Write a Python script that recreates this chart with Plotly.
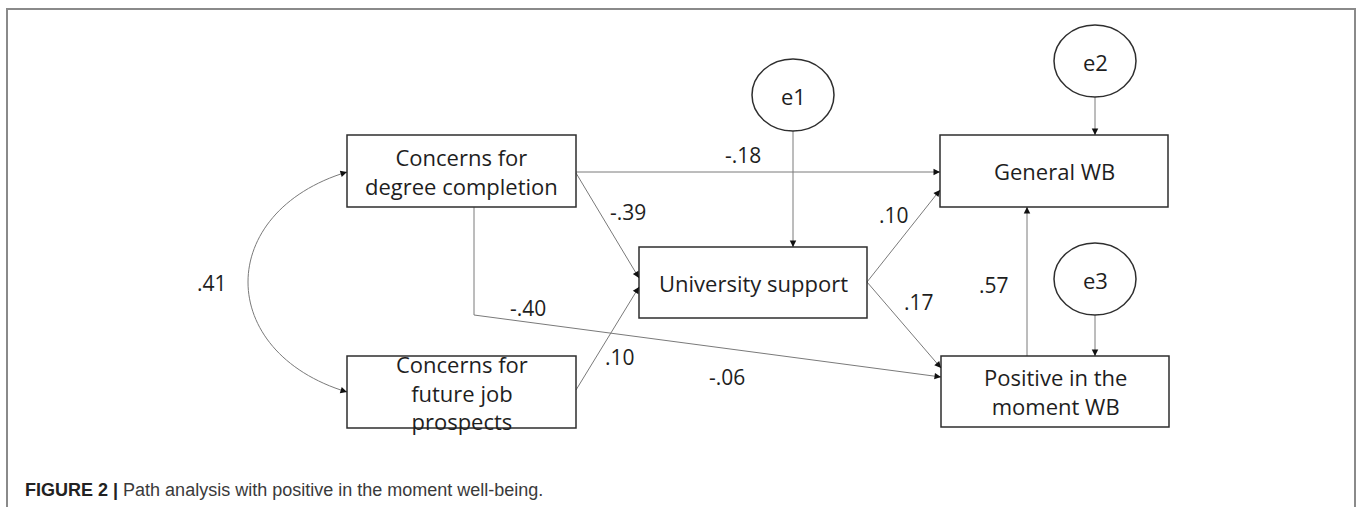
import plotly.graph_objects as go

# ---------------- data ----------------
node_ids = ["deg", "job", "univ", "gen", "pos"]
node_labels = ["Concerns for<br>degree completion",
               "Concerns for<br>future job<br>prospects",
               "University support",
               "General WB",
               "Positive in the<br>moment WB"]
error_labels = ["e1", "e2", "e3"]
error_targets = ["univ", "gen", "pos"]
path_from = ["deg", "deg", "job", "deg", "univ", "univ", "pos"]
path_to = ["gen", "univ", "univ", "pos", "gen", "pos", "gen"]
path_coef = ["-.18", "-.39", ".10", "-.40", ".10", ".17", ".57"]
extra_coef = ["-.06"]
corr_pair = ("deg", "job")
corr_coef = ".41"
caption_bold = "FIGURE 2 |"
caption_text = "Path analysis with positive in the moment well-being."

# ---------------- layout (pixel space) ----------------
W, H = 1365, 507
box_pos = {"deg": (347, 576, 135, 207), "job": (347, 576, 356, 428),
           "univ": (639, 867, 247, 318), "gen": (940, 1168, 135, 207),
           "pos": (941, 1169, 356, 427)}
err_pos = {"e1": (793, 95), "e2": (1095, 61), "e3": (1095, 279)}
err_r = (41, 36)
routes = [
    [(576, 172), (940, 172)],
    [(576, 173), (639, 278)],
    [(576, 390), (639, 287)],
    [(474, 207), (474, 315), (941, 377)],
    [(867, 282), (940, 190)],
    [(867, 282), (941, 368)],
    [(1027, 356), (1027, 207)],
]
coef_pos = [(743, 155), (628, 212), (620, 357), (528, 308),
            (894, 215), (919, 302), (994, 285)]
extra_pos = [(727, 377)]
corr_pos = (212, 283)

FONT = "Open Sans"
FSIZE = 22
TXT = "#1e1e1e"
EDGE = "#7a7a7a"
BORDER = "#2e2e2e"

fig = go.Figure()
fig.add_trace(go.Scatter(x=[], y=[], mode="markers", hoverinfo="skip"))

shapes = []
annos = []

def head(x, y, tx, ty):
    dx, dy = x - tx, y - ty
    n = (dx * dx + dy * dy) ** 0.5
    ux, uy = dx / n, dy / n
    annos.append(dict(x=x, y=y, ax=x - ux * 7, ay=y - uy * 7, xref="x", yref="y",
                      axref="x", ayref="y", showarrow=True, arrowhead=2,
                      arrowsize=1.3, arrowwidth=1, arrowcolor="#111", text=""))

# frame
shapes.append(dict(type="path", path=f"M 7,{H+20} L 7,9 L 1355,9 L 1355,{H+20}",
                   xref="x", yref="y", line=dict(color="#8a8a8a", width=2)))

# edges
for r in routes:
    p = "M " + " L ".join(f"{x},{y}" for x, y in r)
    shapes.append(dict(type="path", path=p, xref="x", yref="y",
                       line=dict(color=EDGE, width=1)))
    head(r[-1][0], r[-1][1], r[-2][0], r[-2][1])

# error arrows
for e, t in zip(error_labels, error_targets):
    cx, cy = err_pos[e]
    x0, x1, y0, y1 = box_pos[t]
    yb = cy + err_r[1]
    shapes.append(dict(type="line", x0=cx, x1=cx, y0=yb, y1=y0, xref="x", yref="y",
                       line=dict(color=EDGE, width=1)))
    head(cx, y0, cx, yb)

# correlation curve
a = box_pos[corr_pair[0]]
b = box_pos[corr_pair[1]]
p0 = (a[0], 172)
p3 = (b[0], 392)
c1 = (215, 212)
c2 = (215, 352)
shapes.append(dict(type="path",
                   path=f"M {p0[0]},{p0[1]} C {c1[0]},{c1[1]} {c2[0]},{c2[1]} {p3[0]},{p3[1]}",
                   xref="x", yref="y", line=dict(color=EDGE, width=1)))
head(p0[0], p0[1], c1[0], c1[1])
head(p3[0], p3[1], c2[0], c2[1])

# boxes
for nid, lab in zip(node_ids, node_labels):
    x0, x1, y0, y1 = box_pos[nid]
    shapes.append(dict(type="rect", x0=x0, x1=x1, y0=y0, y1=y1, xref="x", yref="y",
                       line=dict(color=BORDER, width=1.5), fillcolor="rgba(0,0,0,0)"))
    annos.append(dict(x=(x0 + x1) / 2, y=(y0 + y1) / 2, text=lab, showarrow=False,
                      xref="x", yref="y", font=dict(family=FONT, size=FSIZE, color=TXT),
                      align="center"))

# error ellipses
for e in error_labels:
    cx, cy = err_pos[e]
    shapes.append(dict(type="circle", x0=cx - err_r[0], x1=cx + err_r[0],
                       y0=cy - err_r[1], y1=cy + err_r[1], xref="x", yref="y",
                       line=dict(color=BORDER, width=1.5)))
    annos.append(dict(x=cx, y=cy + 1, text=e, showarrow=False, xref="x", yref="y",
                      font=dict(family=FONT, size=FSIZE, color=TXT)))

# coefficients
for c, (x, y) in zip(path_coef + extra_coef + [corr_coef],
                     coef_pos + extra_pos + [corr_pos]):
    annos.append(dict(x=x, y=y, text=c, showarrow=False, xref="x", yref="y",
                      font=dict(family=FONT, size=FSIZE - 1, color=TXT)))

# caption
annos.append(dict(x=23, y=490, xanchor="left", yanchor="middle", xref="x", yref="y",
                  showarrow=False,
                  text=f"<b>{caption_bold}</b> <span style='color:#3a3a3a'>{caption_text}</span>",
                  font=dict(family="Liberation Sans", size=18, color="#222")))

fig.update_layout(width=W, height=H, margin=dict(l=0, r=0, t=0, b=0),
                  paper_bgcolor="white", plot_bgcolor="white", showlegend=False,
                  xaxis=dict(range=[0, W], visible=False, fixedrange=True),
                  yaxis=dict(range=[H, 0], visible=False, fixedrange=True),
                  shapes=shapes, annotations=annos)

fig.write_html("out.html", config={"displayModeBar": False},
               post_script="document.body.style.margin='0';document.body.style.overflow='hidden';")
